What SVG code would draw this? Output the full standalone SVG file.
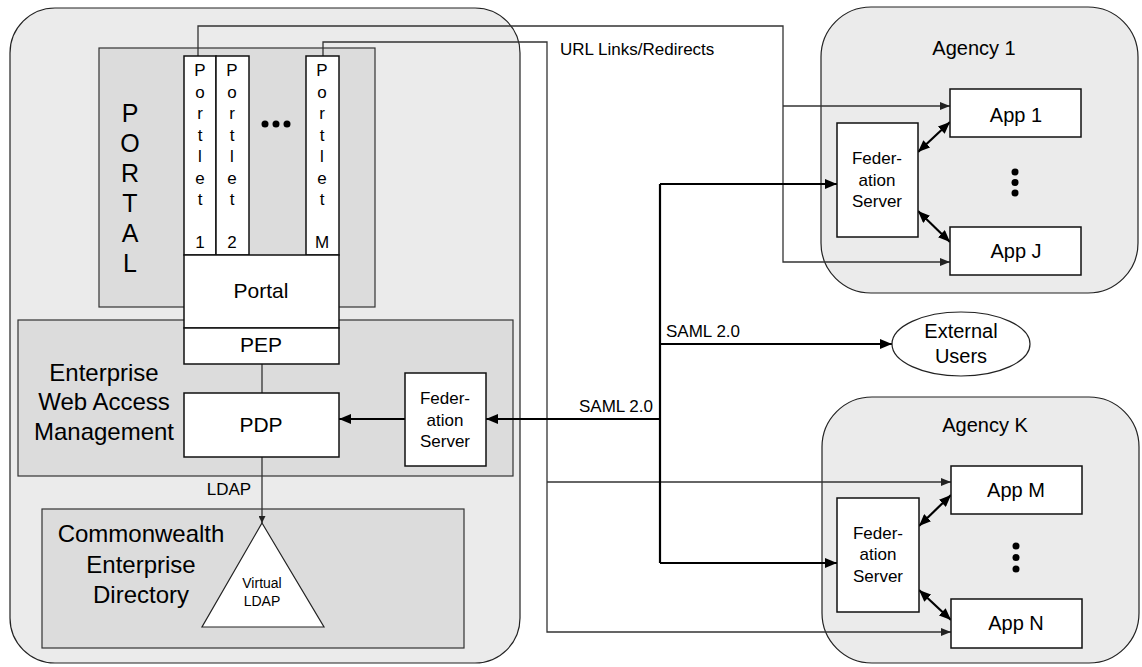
<svg xmlns="http://www.w3.org/2000/svg" width="1142" height="667" viewBox="0 0 1142 667">
<defs>
<style>
text{font-family:"Liberation Sans",Arial,sans-serif;fill:#000}
.mid{text-anchor:middle}
.cont{fill:#ebebeb;stroke:#222;stroke-width:1.2}
.grey{fill:#dcdcdc;stroke:#333;stroke-width:1.2}
.box{fill:#fff;stroke:#111;stroke-width:1.5}
.thin{fill:none;stroke:#333;stroke-width:1.3}
.thick{fill:none;stroke:#000;stroke-width:2.2}
.dot{fill:#000}
</style>
<marker id="at" viewBox="0 0 10 8" refX="10" refY="4" markerWidth="10" markerHeight="8" markerUnits="userSpaceOnUse" orient="auto"><path d="M0,0 L10,4 L0,8 Z" fill="#222"/></marker>
<marker id="ak" viewBox="0 0 12 10" refX="12" refY="5" markerWidth="12" markerHeight="10" markerUnits="userSpaceOnUse" orient="auto-start-reverse"><path d="M0,0 L12,5 L0,10 Z" fill="#000"/></marker>
<marker id="as" viewBox="0 0 8 8" refX="8" refY="4" markerWidth="7" markerHeight="7" markerUnits="userSpaceOnUse" orient="auto"><path d="M0,0 L8,4 L0,8 Z" fill="#222"/></marker>
</defs>

<g id="containers">
<rect id="enterprise" class="cont" x="10" y="8" width="510" height="655" rx="45"/>
<rect id="agency1" class="cont" x="821" y="7" width="317" height="286" rx="50"/>
<rect id="agencyK" class="cont" x="822" y="397" width="317" height="266" rx="50"/>
<g id="portal-area"><rect class="grey" x="99" y="48" width="276" height="259"/>
<text class="mid" x="130" y="122" font-size="25">P</text>
<text class="mid" x="130" y="152" font-size="25">O</text>
<text class="mid" x="130" y="182" font-size="25">R</text>
<text class="mid" x="130" y="212" font-size="25">T</text>
<text class="mid" x="130" y="242" font-size="25">A</text>
<text class="mid" x="130" y="272" font-size="25">L</text>
</g>
<g id="wam-area"><rect class="grey" x="18" y="320" width="495" height="156"/>
<text class="mid" x="104" y="381" font-size="24">Enterprise</text>
<text class="mid" x="104" y="410" font-size="24">Web Access</text>
<text class="mid" x="104" y="440" font-size="24">Management</text>
</g>
<g id="directory-area"><rect class="grey" x="42" y="509" width="422" height="139"/>
<text class="mid" x="141" y="542" font-size="24">Commonwealth</text>
<text class="mid" x="141" y="573" font-size="24">Enterprise</text>
<text class="mid" x="141" y="603" font-size="24">Directory</text>
</g>
<text class="mid" x="974" y="55" font-size="20">Agency 1</text>
<text class="mid" x="985" y="432" font-size="20">Agency K</text>
</g>

<g id="connectors">
<path class="thin" d="M198,56 V26 H783 V262 H950" marker-end="url(#at)"/>
<path class="thin" d="M783,106 H950" marker-end="url(#at)"/>
<path class="thin" d="M323,56 V42 H547 V632 H951" marker-end="url(#at)"/>
<path class="thin" d="M547,482 H951" marker-end="url(#at)"/>
<path class="thin" d="M262,364 V393"/>
<path class="thin" d="M262,457 V523" marker-end="url(#as)"/>
<path class="thick" d="M660,184 V563"/>
<path class="thick" d="M660,184 H837" marker-end="url(#ak)"/>
<path class="thick" d="M660,344 H892" marker-end="url(#ak)"/>
<path class="thick" d="M660,419 H486" marker-end="url(#ak)"/>
<path class="thick" d="M660,563 H837" marker-end="url(#ak)"/>
<path class="thick" d="M405,419 H339" marker-end="url(#ak)"/>
<path class="thick" d="M918,152 L950,122" marker-start="url(#ak)" marker-end="url(#ak)"/>
<path class="thick" d="M918,211 L950,242" marker-start="url(#ak)" marker-end="url(#ak)"/>
<path class="thick" d="M919,526 L951,495" marker-start="url(#ak)" marker-end="url(#ak)"/>
<path class="thick" d="M919,590 L951,620" marker-start="url(#ak)" marker-end="url(#ak)"/>
<text x="560" y="55" font-size="17">URL Links/Redirects</text>
<text x="666" y="337" font-size="17">SAML 2.0</text>
<text x="653" y="412" font-size="17" text-anchor="end">SAML 2.0</text>
<text class="mid" x="229" y="495" font-size="17">LDAP</text>
</g>

<g id="portlet1"><rect class="box" x="184" y="56" width="32" height="199"/>
<g font-size="17" text-anchor="middle"><text x="200" y="76">P</text><text x="200" y="98">o</text><text x="200" y="119">r</text><text x="200" y="141">t</text><text x="200" y="162">l</text><text x="200" y="184">e</text><text x="200" y="205">t</text><text x="200" y="248">1</text></g></g>
<g id="portlet2"><rect class="box" x="216" y="56" width="33" height="199"/>
<g font-size="17" text-anchor="middle"><text x="232" y="76">P</text><text x="232" y="98">o</text><text x="232" y="119">r</text><text x="232" y="141">t</text><text x="232" y="162">l</text><text x="232" y="184">e</text><text x="232" y="205">t</text><text x="232" y="248">2</text></g></g>
<g id="portletM"><rect class="box" x="306" y="56" width="33" height="199"/>
<g font-size="17" text-anchor="middle"><text x="322" y="76">P</text><text x="322" y="98">o</text><text x="322" y="119">r</text><text x="322" y="141">t</text><text x="322" y="162">l</text><text x="322" y="184">e</text><text x="322" y="205">t</text><text x="322" y="248">M</text></g></g>
<g id="portlet-dots"><circle class="dot" cx="265" cy="124" r="3.5"/><circle class="dot" cx="276" cy="124" r="3.5"/><circle class="dot" cx="287" cy="124" r="3.5"/></g>
<g id="portal"><rect class="box" x="184" y="255" width="155" height="73"/><text class="mid" x="261" y="298" font-size="21">Portal</text></g>
<g id="pep"><rect class="box" x="184" y="328" width="155" height="36"/><text class="mid" x="261" y="352" font-size="21">PEP</text></g>
<g id="pdp"><rect class="box" x="184" y="393" width="155" height="64"/><text class="mid" x="261" y="432" font-size="21">PDP</text></g>
<g id="fed-wam"><rect class="box" x="405" y="373" width="81" height="93"/>
<text class="mid" x="445" y="404" font-size="17">Feder-</text><text class="mid" x="445" y="426" font-size="17">ation</text><text class="mid" x="445" y="447" font-size="17">Server</text></g>
<g id="virtual-ldap"><polygon points="262,523 324,627 202,627" fill="#fff" stroke="#222" stroke-width="1.2"/>
<text class="mid" x="262" y="588" font-size="14">Virtual</text><text class="mid" x="262" y="606" font-size="14">LDAP</text></g>
<g id="external-users"><ellipse cx="961" cy="344" rx="69" ry="32" fill="#fff" stroke="#222" stroke-width="1.2"/>
<text class="mid" x="961" y="338" font-size="20">External</text><text class="mid" x="961" y="363" font-size="20">Users</text></g>
<g id="fed-agency1"><rect class="box" x="837" y="123" width="81" height="114"/>
<text class="mid" x="877" y="164" font-size="17">Feder-</text><text class="mid" x="877" y="186" font-size="17">ation</text><text class="mid" x="877" y="207" font-size="17">Server</text></g>
<g id="app1"><rect class="box" x="950" y="89" width="131" height="48"/><text class="mid" x="1016" y="122" font-size="20">App 1</text></g>
<g id="appJ"><rect class="box" x="950" y="227" width="131" height="48"/><text class="mid" x="1016" y="258" font-size="20">App J</text></g>
<g id="dots-agency1"><circle class="dot" cx="1015" cy="172" r="3.5"/><circle class="dot" cx="1015" cy="182.5" r="3.5"/><circle class="dot" cx="1015" cy="193" r="3.5"/></g>
<g id="fed-agencyK"><rect class="box" x="837" y="498" width="82" height="114"/>
<text class="mid" x="878" y="539" font-size="17">Feder-</text><text class="mid" x="878" y="560" font-size="17">ation</text><text class="mid" x="878" y="582" font-size="17">Server</text></g>
<g id="appM"><rect class="box" x="951" y="466" width="131" height="48"/><text class="mid" x="1016" y="497" font-size="20">App M</text></g>
<g id="appN"><rect class="box" x="951" y="599" width="131" height="49"/><text class="mid" x="1016" y="630" font-size="20">App N</text></g>
<g id="dots-agencyK"><circle class="dot" cx="1016" cy="546" r="3.5"/><circle class="dot" cx="1016" cy="557.5" r="3.5"/><circle class="dot" cx="1016" cy="569" r="3.5"/></g>
</svg>
